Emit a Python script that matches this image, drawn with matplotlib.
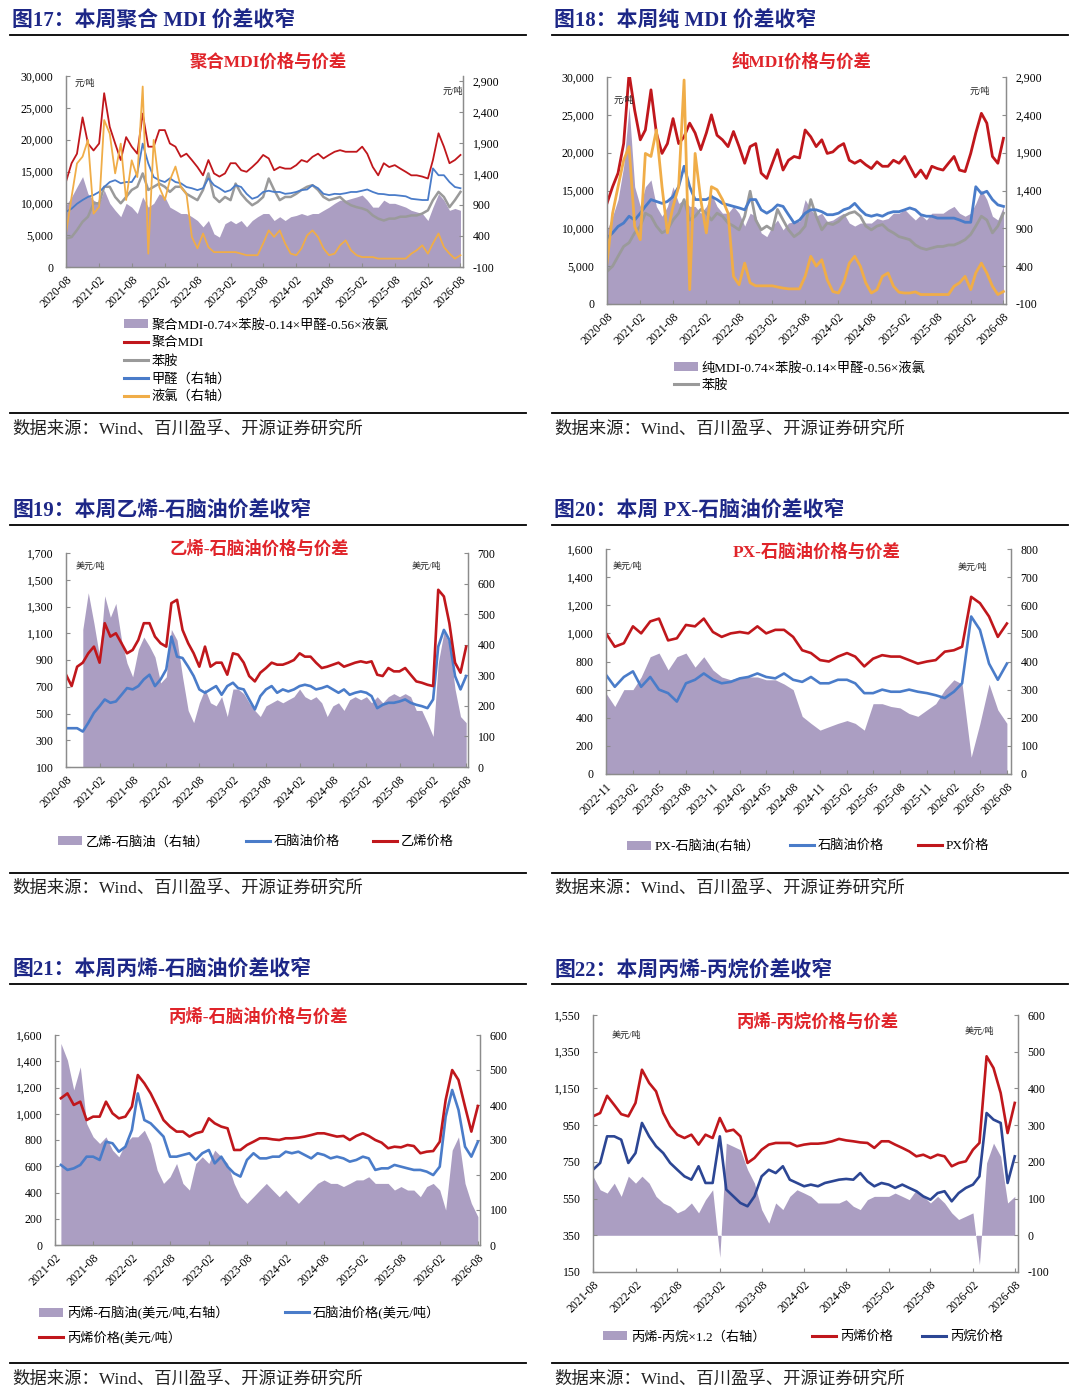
import matplotlib
matplotlib.use("Agg")
import matplotlib.pyplot as plt
from matplotlib.lines import Line2D
from matplotlib.patches import Patch
from matplotlib.ticker import FuncFormatter
import pandas as pd

# ---------------- data ----------------
months_a = pd.date_range("2020-08-01", "2026-08-01", freq="MS")   # fig 17/18/19
months_b = pd.date_range("2020-11-01", "2026-08-01", freq="MS")   # fig 19 spread
months_c = pd.date_range("2022-11-01", "2026-08-01", freq="MS")   # fig 20
months_d = pd.date_range("2021-03-01", "2026-08-01", freq="MS")   # fig 21
months_e = pd.date_range("2021-08-01", "2026-08-01", freq="MS")   # fig 22

# fig 17  聚合MDI
pmdi = [13400, 16300, 17800, 23500, 19400,
        18300, 19400, 27300, 22000, 19400, 16800, 20400, 18900, 17800, 24100, 18900, 18900,
        21500, 21500, 19400, 18900, 17300, 17800, 16800, 15700, 14400, 16800, 14700, 14200,
        14700, 16300, 16300, 15200, 14950, 15700, 16500, 17600, 17050, 15200, 15700, 15450,
        15450, 16000, 16800, 16500, 17300, 17800, 17050, 17600, 18100, 18350, 18100, 18100,
        18100, 18900, 17800, 15700, 14400, 16300, 15700, 16000, 15450, 14950, 14400, 14400,
        14200, 13900, 16800, 21000, 18900, 16300, 16800, 17600]
aniline_17 = [4450, 4700, 5800, 7100, 7900,
              10000, 10000, 12600, 12600, 11000, 10000, 11000, 12100, 12600, 14700, 12100, 12600,
              13100, 12600, 11800, 12600, 12600, 11500, 11000, 10500, 12100, 14700, 11000, 10200,
              11000, 10500, 13100, 11500, 10500, 9700, 10200, 11000, 13900, 12100, 10500, 11000,
              11000, 11500, 12100, 12600, 12850, 12100, 11000, 10500, 10750, 11000, 10200, 9700,
              9400, 9200, 8900, 8100, 7600, 7300, 7600, 7600, 7900, 7900, 8100, 8100,
              8400, 8900, 10500, 11800, 11000, 9400, 10500, 11800]
formal_17 = [790, 840, 920, 980, 1030,
             1060, 1110, 1190, 1270, 1300, 1250, 1270, 1270, 1410, 1890, 1570, 1350,
             1300, 1270, 1330, 1270, 1250, 1190, 1170, 1140, 1170, 1330, 1220, 1170,
             1110, 1140, 1220, 1190, 1080, 1000, 1030, 1110, 1130, 1110, 1110, 1080,
             1090, 1110, 1140, 1150, 1220, 1170, 1080, 1060, 1080, 1075, 1090, 1110,
             1110, 1130, 1150, 1110, 1080, 1075, 1060, 1060, 1050, 1040, 1000, 990,
             980, 980, 1490, 1380, 1380, 1270, 1190, 1170]
chlor_17 = [440, 1030, 1570, 1680, 1950,
            760, 870, 2270, 2050, 1410, 1890, 980, 1620, 1350, 2810, 115, 1950,
            1190, 980, 1300, 1520, 1190, 1080, 385, 200, 440, 220, 140, 140,
            140, 140, 140, 115, 90, 90, 90, 280, 490, 385, 490, 280,
            115, 90, 200, 410, 490, 385, 200, 90, 115, 250, 330, 170,
            90, 60, 60, 60, 35, 35, 35, 35, 35, 35, 115, 170,
            250, 115, 280, 440, 220, 115, 35, 90]
spread_17 = [9700, 11000, 12600, 14200, 11500,
             10500, 10000, 12100, 10000, 8900, 7900, 10000, 9400, 8400, 11000, 9400, 10000,
             11500, 11000, 9400, 8900, 8400, 8400, 7900, 7300, 6300, 7300, 5200, 4700,
             6800, 7300, 6800, 7300, 6300, 7300, 7900, 8400, 8400, 7300, 7900, 7300,
             7900, 8100, 8400, 8100, 8400, 8400, 8900, 9400, 10000, 10500, 10500, 10750,
             11000, 11300, 10500, 9400, 9400, 10500, 10000, 10000, 9700, 9400, 8900, 8650,
             8400, 7300, 9400, 11500, 10500, 8900, 9200, 8900]

# fig 18  纯MDI
mmdi = [13300, 15500, 17300, 21200, 30500,
        25600, 21700, 23000, 28300, 22600, 19900, 21200, 24500, 21200, 22100, 23900, 22600,
        20400, 22600, 25000, 22300, 21700, 20800, 22800, 20800, 18600, 20800, 21200, 17300,
        16600, 18600, 20400, 17700, 19000, 19500, 19300, 23000, 22100, 20800, 21700, 19900,
        20100, 20800, 21200, 19000, 18600, 19000, 18400, 17900, 18800, 18200, 18200, 19000,
        18600, 19500, 18200, 16800, 17700, 16600, 18200, 17900, 17700, 18600, 19500, 17700,
        17500, 19900, 22600, 25200, 23900, 19500, 18600, 21900]
aniline_18 = [4300, 5000, 6300, 7600, 8100,
              9400, 10300, 12000, 11600, 10300, 9400, 9800, 11100, 12000, 13800, 11100, 11600,
              12500, 12000, 11100, 12000, 11600, 10700, 10300, 9800, 11600, 14900, 11100, 9800,
              10300, 9800, 12500, 11100, 9800, 8900, 9400, 10300, 13800, 11600, 9800, 10700,
              10500, 10900, 11600, 12000, 12200, 11600, 10300, 9800, 10300, 10500, 9800, 9400,
              8900, 8700, 8500, 7800, 7400, 7200, 7400, 7600, 7600, 7800, 7800, 8100,
              8500, 9200, 10300, 11600, 11100, 9400, 10300, 12000]
formal_18 = [770, 840, 925, 970, 1060,
             1010, 1100, 1190, 1280, 1255, 1230, 1255, 1320, 1450, 1720, 1450, 1280,
             1280, 1280, 1320, 1280, 1230, 1210, 1190, 1170, 1145, 1280, 1280, 1145,
             1100, 1145, 1210, 1190, 1080, 970, 1010, 1100, 1145, 1145, 1120, 1080,
             1080, 1100, 1145, 1170, 1230, 1145, 1080, 1060, 1080, 1060, 1100, 1120,
             1120, 1145, 1170, 1145, 1080, 1060, 1060, 1035, 1035, 1035, 1035, 1010,
             980, 980, 1450, 1360, 1390, 1280, 1210, 1190]
chlor_18 = [440, 1100, 1450, 1800, 1980,
            925, 750, 1890, 1850, 2200, 1450, 840, 1190, 1450, 2860, 90, 1890,
            1280, 840, 1450, 1410, 1280, 1100, 265, 155, 440, 180, 140, 140,
            140, 140, 125, 110, 100, 100, 100, 265, 530, 400, 485, 220,
            65, 45, 180, 440, 530, 400, 180, 45, 90, 265, 310, 135,
            55, 45, 45, 60, 25, 25, 25, 25, 25, 25, 135, 180,
            265, 90, 310, 440, 310, 135, 25, 65]
spread_18 = [9800, 11600, 13800, 18200, 26100,
             15500, 12900, 15500, 16400, 12900, 11600, 12900, 15500, 13300, 13800, 12900, 12900,
             12000, 12900, 14600, 12900, 12000, 12000, 12900, 12000, 10300, 12000, 11600, 9400,
             8900, 10300, 11100, 9800, 10700, 10900, 10900, 13800, 12500, 11600, 12000, 10900,
             11100, 11600, 12000, 10700, 10300, 10700, 10700, 10700, 11300, 11100, 11300, 12000,
             12000, 12500, 11800, 11100, 11800, 11100, 12000, 12000, 12000, 12500, 12900, 12000,
             11600, 12000, 13300, 15100, 13800, 11600, 11100, 12900]

# fig 19  乙烯-石脑油
naphtha_19 = [390, 390, 390, 365, 430,
              505, 555, 605, 580, 590, 640, 690, 680, 705, 755, 790, 705,
              755, 830, 1075, 925, 915, 850, 780, 680, 655, 680, 705, 640,
              705, 730, 690, 680, 605, 530, 630, 680, 705, 655, 680, 665,
              680, 705, 715, 705, 680, 690, 705, 680, 655, 680, 640, 655,
              665, 655, 630, 540, 565, 580, 580, 590, 605, 580, 565, 555,
              540, 605, 1000, 1125, 1050, 780, 680, 780]
ethylene = [790, 705, 850, 880, 950,
            1000, 880, 1175, 1075, 1100, 1025, 950, 975, 1050, 1175, 1175, 1075,
            1025, 1000, 1325, 1350, 1125, 1025, 950, 850, 1000, 850, 880, 880,
            790, 950, 940, 880, 780, 740, 805, 840, 880, 865, 865, 880,
            900, 950, 925, 925, 880, 840, 850, 865, 880, 850, 865, 880,
            890, 880, 890, 790, 780, 840, 815, 815, 840, 790, 740, 730,
            715, 705, 1425, 1375, 1175, 880, 805, 1000]
spread_19 = [450, 570,
             470, 360, 560, 490, 535, 415, 340, 295, 385, 425, 395, 360,
             275, 295, 450, 415, 295, 185, 145, 210, 255, 210, 200, 230,
             165, 255, 255, 240, 210, 185, 165, 200, 210, 220, 210, 220,
             230, 255, 230, 220, 230, 210, 165, 200, 210, 185, 220, 230,
             220, 230, 210, 230, 210, 230, 240, 230, 240, 230, 185, 185,
             145, 100, 340, 440, 405, 255, 165, 145]

# fig 20  PX-石脑油
px = [1000, 905,
      930, 1050, 1000, 1085, 1105, 950, 965, 1060, 1050, 1105, 1010, 975,
      1000, 1010, 1000, 1050, 1000, 1025, 1025, 975, 880, 860, 810, 800,
      835, 860, 835, 765, 820, 845, 835, 835, 810, 785, 800, 810,
      870, 880, 905, 1260, 1215, 1120, 975, 1070]
naphtha_20 = [705, 620,
              690, 730, 620, 690, 600, 575, 515, 645, 670, 715, 670, 645,
              655, 680, 690, 715, 690, 680, 715, 670, 655, 690, 645, 645,
              670, 670, 645, 575, 575, 600, 585, 585, 600, 585, 575, 560,
              540, 585, 645, 1120, 1025, 785, 670, 785]
spread_20 = [287, 240,
             300, 300, 345, 417, 430, 370, 417, 430, 380, 417, 370, 345,
             335, 345, 345, 345, 335, 335, 320, 300, 205, 180, 156, 168,
             180, 190, 180, 156, 250, 250, 240, 235, 215, 205, 228, 250,
             300, 335, 320, 60, 180, 320, 228, 180]

# fig 21  丙烯-石脑油
propylene_21 = [1118, 1155, 1067, 1092, 952, 978, 978, 1092, 1003, 965,
                978, 1054, 1295, 1232, 1155, 1054, 952, 902, 864, 864, 826, 851,
                864, 965, 927, 902, 889, 724, 724, 762, 787, 813, 813, 805,
                800, 813, 813, 818, 826, 838, 851, 851, 838, 826, 831, 800,
                831, 851, 831, 800, 780, 737, 749, 744, 762, 754, 699, 711,
                716, 787, 1105, 1333, 1257, 1054, 864, 1059]
naphtha_21 = [610, 572, 584, 610, 673, 673, 648, 787, 775, 711,
              749, 876, 1155, 952, 927, 876, 826, 673, 673, 686, 699, 648,
              699, 724, 622, 673, 597, 546, 521, 648, 699, 660, 660, 673,
              673, 711, 699, 711, 686, 660, 699, 686, 660, 673, 660, 635,
              648, 673, 660, 572, 584, 584, 610, 597, 584, 572, 572, 559,
              533, 597, 978, 1181, 1029, 749, 673, 787]
spread_21 = [576, 528, 443, 509, 347, 309, 290, 309, 271, 252,
             290, 309, 309, 328, 290, 214, 176, 195, 233, 176, 157, 233,
             252, 233, 271, 252, 233, 176, 138, 119, 138, 157, 176, 157,
             138, 157, 138, 119, 138, 157, 176, 186, 176, 176, 167, 176,
             186, 186, 195, 176, 176, 176, 157, 167, 157, 157, 138, 167,
             176, 157, 100, 271, 309, 176, 119, 81]

# fig 22  丙烯-丙烷
propylene_22 = [998, 1016, 1110, 1060, 1010,
                998, 1071, 1252, 1180, 1134, 1016, 944, 898, 880, 898, 844, 898,
                880, 989, 916, 925, 889, 744, 771, 816, 844, 853, 853, 853,
                835, 844, 849, 849, 853, 862, 875, 867, 862, 856, 853, 826,
                862, 862, 844, 826, 807, 780, 789, 771, 789, 780, 726, 744,
                753, 816, 853, 1325, 1261, 1125, 907, 1071]
propane = [707, 744, 889, 889, 871,
           744, 798, 962, 889, 835, 798, 744, 707, 671, 653, 726, 635,
           635, 889, 599, 562, 526, 508, 562, 671, 707, 689, 726, 653,
           635, 617, 626, 617, 635, 644, 653, 657, 653, 689, 644, 617,
           635, 626, 608, 626, 608, 590, 562, 544, 580, 590, 535, 580,
           608, 626, 671, 1016, 980, 962, 635, 780]
spread_22 = [161, 124, 115, 142, 106,
             161, 142, 161, 142, 106, 88, 79, 61, 70, 88, 61, 97,
             124, -60, 251, 242, 233, 179, 142, 70, 33, 88, 70, 106,
             124, 115, 106, 88, 88, 88, 88, 97, 79, 70, 97, 106,
             106, 106, 115, 106, 97, 124, 106, 88, 106, 88, 61, 43,
             52, 61, -80, 197, 251, 215, 88, 106]

# ---------------- styling ----------------
W, H = 1080, 1400
PURPLE = "#ab9ec2"
RED = "#c0171c"
GREY = "#9a9a9a"
BLUE = "#4a7cc9"
NAVY = "#2c4694"
YELLOW = "#f0ad48"
HEAD = "#1d2787"
CTITLE = "#e0242a"
SPINE = "#8c8c8c"
SOURCE = "数据来源：Wind、百川盈孚、开源证券研究所"

plt.rcParams["font.family"] = ["Liberation Serif", "Noto Sans CJK SC"]
fig = plt.figure(figsize=(W / 100, H / 100), dpi=100)
fig.patch.set_facecolor("white")


def fx(x):
    return x / W


def fy(y):
    return 1 - y / H


def hline(x0, x1, y, lw=1.3):
    fig.add_artist(Line2D([fx(x0), fx(x1)], [fy(y), fy(y)], color="black", lw=lw))


def frame(x0, top, title, chart_title, ct_x, ct_y, bottom, src_y):
    # heading, rules and source line around one panel
    fig.text(fx(x0 + 2), fy(top - 13), title, fontsize=15, fontweight="bold",
             color=HEAD, va="center", ha="left")
    hline(x0, x0 + 516, top)
    fig.text(fx(ct_x), fy(ct_y), chart_title, fontsize=12.5, fontweight="bold",
             color=CTITLE, va="center", ha="center")
    hline(x0, x0 + 516, bottom)
    fig.text(fx(x0 + 2), fy(src_y), SOURCE, fontsize=12.5, color="#222222",
             va="center", ha="left")


def unit(x, y, s):
    fig.text(fx(x), fy(y), s, fontsize=6.5, color="#222222", va="center", ha="left")


def comma(v, _):
    return f"{v:,.0f}"


def make_axes(l, t, r, b, xend, tick_start, step, left, right):
    ax = fig.add_axes([fx(l), fy(b), (r - l) / W, (b - t) / H])
    ax2 = ax.twinx()
    ticks = pd.date_range(tick_start, "2026-08-01", freq=f"{step}MS")
    ax.set_xlim(pd.Timestamp(tick_start), pd.Timestamp(xend))
    ax.set_xticks(ticks)
    ax.set_xticklabels([d.strftime("%Y-%m") for d in ticks], rotation=45,
                       ha="right", rotation_mode="anchor")
    for a, (lo, hi, top_tick, st) in ((ax, left), (ax2, right)):
        a.set_ylim(lo, hi)
        a.set_yticks(list(range(lo, top_tick + 1, st)))
        a.yaxis.set_major_formatter(FuncFormatter(comma))
        for side, sp in a.spines.items():
            sp.set_color(SPINE)
            sp.set_linewidth(0.9)
        a.spines["top"].set_visible(False)
    ax.tick_params(axis="y", direction="in", length=3, color=SPINE, labelsize=8.5, pad=9)
    ax2.tick_params(axis="y", direction="in", length=3, color=SPINE, labelsize=8.5, pad=7)
    ax.tick_params(axis="x", direction="in", length=3, color=SPINE, labelsize=8.5, pad=5)
    return ax, ax2


def legend_item(handle, label, x, y):
    fig.legend([handle], [label], loc="center left", bbox_to_anchor=(fx(x), fy(y)),
               frameon=False, fontsize=9.5, handlelength=1.8, handletextpad=0.3,
               borderpad=0, borderaxespad=0)


def patch():
    return Patch(facecolor=PURPLE, edgecolor="none")


def line(c):
    return Line2D([], [], color=c, lw=2.2)


# ---------------- 图17 ----------------
frame(10, 35, "图17：本周聚合 MDI 价差收窄", "聚合MDI价格与价差", 268, 62, 413, 430)
ax, ax2 = make_axes(66, 76, 463, 267, "2026-08-15", "2020-08-01", 6,
                    (0, 30000, 30000, 5000), (-100, 2980, 2900, 500))
ax.fill_between(months_a, 0, spread_17, color=PURPLE, lw=0)
ax.plot(months_a, pmdi, color=RED, lw=1.3)
ax.plot(months_a, aniline_17, color=GREY, lw=1.8)
ax2.plot(months_a, formal_17, color=BLUE, lw=1.3)
ax2.plot(months_a, chlor_17, color=YELLOW, lw=1.3)
unit(75, 83, "元/吨")
unit(443, 91, "元/吨")
legend_item(patch(), "聚合MDI-0.74×苯胺-0.14×甲醛-0.56×液氯", 124, 325)
legend_item(line(RED), "聚合MDI", 124, 343)
legend_item(line(GREY), "苯胺", 124, 361)
legend_item(line(BLUE), "甲醛（右轴）", 124, 379)
legend_item(line(YELLOW), "液氯（右轴）", 124, 397)

# ---------------- 图18 ----------------
frame(552, 35, "图18：本周纯 MDI 价差收窄", "纯MDI价格与价差", 801, 62, 413, 430)
ax, ax2 = make_axes(607, 77, 1006, 304, "2026-08-15", "2020-08-01", 6,
                    (0, 30000, 30000, 5000), (-100, 2900, 2900, 500))
ax.fill_between(months_a, 0, spread_18, color=PURPLE, lw=0)
ax.plot(months_a, mmdi, color=RED, lw=2.0)
ax.plot(months_a, aniline_18, color=GREY, lw=2.0)
ax2.plot(months_a, formal_18, color=BLUE, lw=2.0)
ax2.plot(months_a, chlor_18, color=YELLOW, lw=2.0)
unit(614, 100, "元/吨")
unit(970, 91, "元/吨")
legend_item(patch(), "纯MDI-0.74×苯胺-0.14×甲醛-0.56×液氯", 674, 368)
legend_item(line(GREY), "苯胺", 674, 385)

# ---------------- 图19 ----------------
frame(10, 525, "图19：本周乙烯-石脑油价差收窄", "乙烯-石脑油价格与价差", 259, 549, 873, 889)
ax, ax2 = make_axes(66, 553, 468, 767, "2026-08-11", "2020-08-01", 6,
                    (100, 1700, 1700, 200), (0, 700, 700, 100))
ax.set_zorder(ax2.get_zorder() + 1)
ax.patch.set_visible(False)
ax2.fill_between(months_b, 0, spread_19, color=PURPLE, lw=0)
ax.plot(months_a, naphtha_19, color=BLUE, lw=1.9)
ax.plot(months_a, ethylene, color=RED, lw=1.9)
unit(76, 566, "美元/吨")
unit(412, 566, "美元/吨")
legend_item(patch(), "乙烯-石脑油（右轴）", 58, 842)
legend_item(line(BLUE), "石脑油价格", 246, 842)
legend_item(line(RED), "乙烯价格", 373, 842)

# ---------------- 图20 ----------------
frame(552, 525, "图20：本周 PX-石脑油价差收窄", "PX-石脑油价格与价差", 817, 552, 873, 889)
ax, ax2 = make_axes(606, 549, 1011, 774, "2026-08-15", "2022-11-01", 3,
                    (0, 1600, 1600, 200), (0, 800, 800, 100))
ax.set_zorder(ax2.get_zorder() + 1)
ax.patch.set_visible(False)
ax2.fill_between(months_c, 0, spread_20, color=PURPLE, lw=0)
ax.plot(months_c, naphtha_20, color=BLUE, lw=1.9)
ax.plot(months_c, px, color=RED, lw=1.9)
unit(613, 566, "美元/吨")
unit(958, 567, "美元/吨")
legend_item(patch(), "PX-石脑油(右轴）", 627, 846)
legend_item(line(BLUE), "石脑油价格", 790, 846)
legend_item(line(RED), "PX价格", 918, 846)

# ---------------- 图21 ----------------
frame(10, 984, "图21：本周丙烯-石脑油价差收窄", "丙烯-石脑油价格与价差", 259, 1017, 1363, 1380)
ax, ax2 = make_axes(55, 1035, 480, 1245, "2026-08-11", "2021-02-01", 6,
                    (0, 1600, 1600, 200), (0, 600, 600, 100))
ax.set_zorder(ax2.get_zorder() + 1)
ax.patch.set_visible(False)
ax2.fill_between(months_d, 0, spread_21, color=PURPLE, lw=0)
ax.plot(months_d, naphtha_21, color=BLUE, lw=1.9)
ax.plot(months_d, propylene_21, color=RED, lw=1.9)
legend_item(patch(), "丙烯-石脑油(美元/吨,右轴）", 39, 1313)
legend_item(line(BLUE), "石脑油价格(美元/吨）", 285, 1313)
legend_item(line(RED), "丙烯价格(美元/吨）", 39, 1338)

# ---------------- 图22 ----------------
frame(552, 984, "图22：本周丙烯-丙烷价差收窄", "丙烯-丙烷价格与价差", 818, 1022, 1363, 1380)
ax, ax2 = make_axes(593, 1015, 1018, 1272, "2026-08-15", "2021-08-01", 6,
                    (150, 1550, 1550, 200), (-100, 600, 600, 100))
ax.set_zorder(ax2.get_zorder() + 1)
ax.patch.set_visible(False)
ax2.fill_between(months_e, 0, spread_22, color=PURPLE, lw=0)
ax.plot(months_e, propylene_22, color=RED, lw=1.9)
ax.plot(months_e, propane, color=NAVY, lw=1.9)
unit(612, 1035, "美元/吨")
unit(965, 1031, "美元/吨")
legend_item(patch(), "丙烯-丙烷×1.2（右轴）", 603, 1337)
legend_item(line(RED), "丙烯价格", 812, 1337)
legend_item(line(NAVY), "丙烷价格", 922, 1337)

fig.savefig("out.png", dpi=100, facecolor="white")
